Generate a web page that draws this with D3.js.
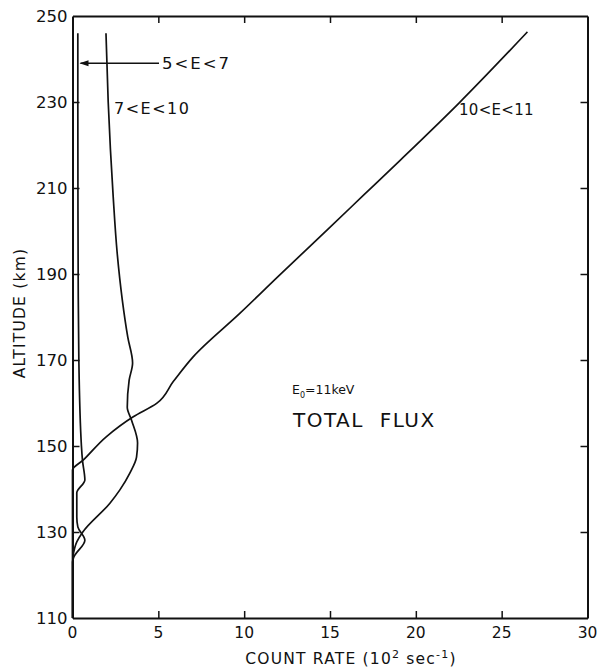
<!DOCTYPE html>
<html>
<head>
<meta charset="utf-8">
<script src="https://cdn.jsdelivr.net/npm/d3@7"></script>
<style>
  html, body { margin: 0; padding: 0; background: #fff; }
  svg { display: block; }
  text { font-family: "DejaVu Sans", sans-serif; fill: #111; }
</style>
</head>
<body>
<svg id="chart" width="597" height="671"></svg>
<script>
// ---- data (count rate in 10^2 s^-1 vs altitude in km) ----
const xTicks = [0, 5, 10, 15, 20, 25, 30];
const yTicks = [110, 130, 150, 170, 190, 210, 230, 250];

const altLow = [110, 123, 124.2, 128.1, 131.2, 133.5, 139.1, 142.1, 146.7, 150, 170, 190, 230, 246];
const rateLow = [0, 0, 0.08, 0.72, 0.31, 0.25, 0.25, 0.72, 0.58, 0.52, 0.37, 0.33, 0.31, 0.31];

const altMid = [124.2, 127.7, 130, 136.7, 139.8, 143.7, 147.4, 150.7, 156, 159, 165.3, 169.3, 175.3, 184, 195, 208, 230, 246];
const rateMid = [0.02, 0.25, 0.6, 2.18, 2.76, 3.34, 3.73, 3.79, 3.44, 3.19, 3.3, 3.5, 3.22, 2.9, 2.6, 2.37, 2.08, 1.95];

const altHigh = [110, 144.4, 146.7, 152.2, 156.8, 159.9, 165, 170.8, 180.9, 189.5, 200.5, 208.5, 216.5, 229.7, 246.3];
const rateHigh = [0, 0, 0.62, 1.98, 3.54, 4.9, 5.87, 7.04, 9.76, 12, 14.9, 17, 19.1, 22.5, 26.5];

const seriesLabels = ["5<E<7", "7<E<10", "10<E<11"];

// ---- layout ----
const svg = d3.select("#chart");
const mLeft = 72.5, mRight = 587.5, mTop = 16, mBottom = 618;
const x = d3.scaleLinear().domain([0, 30]).range([mLeft, mRight]);
const y = d3.scaleLinear().domain([110, 250]).range([mBottom, mTop]);

// axes (ticks inward on all four sides)
const tl = 7;
const axB = svg.append("g").attr("transform", `translate(0,${mBottom})`)
  .call(d3.axisBottom(x).tickValues(xTicks.slice(1, -1)).tickSizeInner(-tl).tickSizeOuter(0).tickFormat(""));
const axT = svg.append("g").attr("transform", `translate(0,${mTop})`)
  .call(d3.axisTop(x).tickValues(xTicks.slice(1, -1)).tickSizeInner(-tl).tickSizeOuter(0).tickFormat(""));
const axL = svg.append("g").attr("transform", `translate(${mLeft},0)`)
  .call(d3.axisLeft(y).tickValues(yTicks.slice(1, -1)).tickSizeInner(-tl).tickSizeOuter(0).tickFormat(""));
const axR = svg.append("g").attr("transform", `translate(${mRight},0)`)
  .call(d3.axisRight(y).tickValues(yTicks.slice(1, -1)).tickSizeInner(-tl).tickSizeOuter(0).tickFormat(""));
[axB, axT, axL, axR].forEach(a => {
  a.selectAll(".domain").attr("stroke", "#111").attr("stroke-width", 2);
  a.selectAll(".tick line").attr("stroke", "#111").attr("stroke-width", 1.5);
});

// tick labels
svg.append("g").selectAll("text").data(yTicks).join("text")
  .attr("x", mLeft - 5).attr("y", d => y(d)).attr("dy", "0.36em")
  .attr("text-anchor", "end").attr("font-size", 16.5).text(d => d);
svg.append("g").selectAll("text").data(xTicks).join("text")
  .attr("x", d => x(d)).attr("y", mBottom + 20).attr("text-anchor", "middle")
  .attr("font-size", 15.5).text(d => d);

// axis titles
svg.append("text").attr("transform", `translate(25,313) rotate(-90)`)
  .attr("text-anchor", "middle").attr("font-size", 15.5).attr("letter-spacing", 1.2).text("ALTITUDE (km)");
const xt = svg.append("text").attr("x", 351).attr("y", 664).attr("text-anchor", "middle")
  .attr("font-size", 15.5).attr("letter-spacing", 1.2);
xt.append("tspan").text("COUNT RATE (10");
xt.append("tspan").attr("dy", -6).attr("font-size", 11).text("2");
xt.append("tspan").attr("dy", 6).text(" sec");
xt.append("tspan").attr("dy", -6).attr("font-size", 11).text("-1");
xt.append("tspan").attr("dy", 6).text(")");

// curves
const line = d3.line().x(d => x(d[0])).y(d => y(d[1])).curve(d3.curveMonotoneY);
const series = [
  d3.zip(rateLow, altLow),
  d3.zip(rateMid, altMid),
  d3.zip(rateHigh, altHigh)
];
svg.append("g").selectAll("path").data(series).join("path")
  .attr("d", line).attr("fill", "none").attr("stroke", "#111").attr("stroke-width", 1.7);

// annotations
svg.append("line").attr("x1", x(0.35) + 2).attr("x2", 159).attr("y1", y(239)).attr("y2", y(239))
  .attr("stroke", "#111").attr("stroke-width", 1.5);
svg.append("path").attr("d", `M${x(0.35)+1},${y(239)} l9,-3 l0,6 z`).attr("fill", "#111");
svg.append("text").attr("x", 162).attr("y", y(239)).attr("dy", "0.36em").attr("font-size", 16.5)
  .attr("letter-spacing", 2).text(seriesLabels[0]);
svg.append("text").attr("x", 114).attr("y", 108).attr("dy", "0.36em").attr("font-size", 16)
  .attr("letter-spacing", 1.5).text(seriesLabels[1]);
svg.append("text").attr("x", 459).attr("y", 110).attr("dy", "0.36em").attr("font-size", 15)
  .attr("letter-spacing", 0.3).text(seriesLabels[2]);

const e0 = svg.append("text").attr("x", 292).attr("y", 394).attr("font-size", 12.5);
e0.append("tspan").text("E");
e0.append("tspan").attr("dy", 4).attr("font-size", 8).text("0");
e0.append("tspan").attr("dy", -4).text("=11keV");
svg.append("text").attr("x", 293).attr("y", 427).attr("font-size", 20).attr("letter-spacing", 1.5)
  .style("white-space", "pre").text("TOTAL  FLUX");
</script>
</body>
</html>
